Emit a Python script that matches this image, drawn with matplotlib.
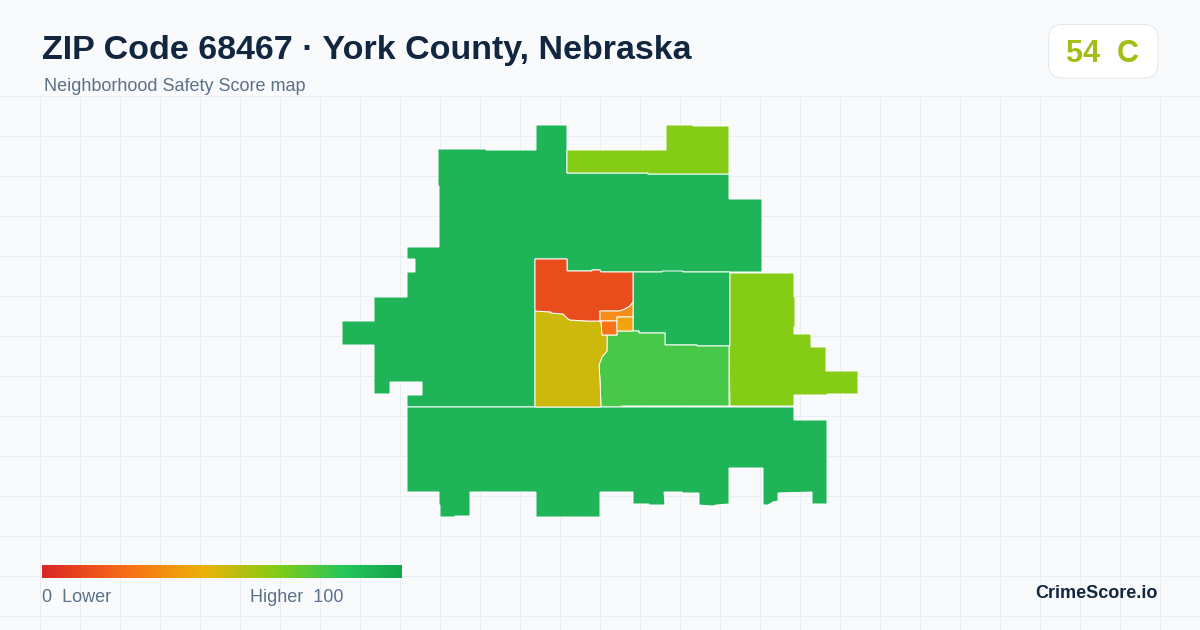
import numpy as np
import matplotlib.pyplot as plt
from matplotlib.colors import LinearSegmentedColormap
from matplotlib.patches import FancyBboxPatch, Polygon

plt.rcParams['font.family'] = ['Liberation Sans', 'DejaVu Sans']

TITLE = 'ZIP Code 68467 · York County, Nebraska'
SUBTITLE = 'Neighborhood Safety Score map'
SCORE_TEXT = '54  C'
BRAND = 'CrimeScore.io'

# tract outlines in image pixels
west_big = [(438, 149), (486, 149), (486, 150), (536, 150), (536, 125), (567, 125), (567, 173), (648, 173),
            (648, 174), (729, 174), (729, 199), (762, 199), (762, 272), (633, 272), (601, 272), (600, 270),
            (592, 270), (592, 271), (567, 271), (567, 259), (535, 259), (535, 407), (407, 407), (407, 395),
            (422, 395), (422, 382), (390, 382), (390, 394), (374, 394), (374, 345), (342, 345), (342, 321),
            (374, 321), (374, 297), (407, 297), (407, 272), (415, 272), (415, 259), (407, 259), (407, 247),
            (439, 247), (439, 186), (438, 186)]
north_lime = [(567, 150), (666, 150), (666, 125), (693, 125), (693, 126), (729, 126), (729, 174), (648, 174),
              (648, 173), (567, 173)]
east_green = [(633, 272), (662, 272), (662, 271), (683, 271), (683, 272), (730, 272), (730, 346), (697, 346),
              (697, 345), (665, 345), (665, 333), (639, 333), (639, 331), (633, 331)]
east_lime = [(730, 273), (794, 273), (794, 297), (795, 297), (795, 327), (794, 327), (794, 334), (811, 334),
             (811, 347), (826, 347), (826, 371), (858, 371), (858, 394), (827, 394), (827, 395), (794, 395),
             (794, 406), (730, 406), (729, 346), (730, 346)]
center_green = [(601, 407), (600, 380), (599, 365), (602, 357), (607, 351), (607, 335), (617, 335), (617, 331),
                (633, 331), (639, 331), (639, 333), (665, 333), (665, 345), (697, 345), (697, 346), (729, 346),
                (729, 406), (621, 406), (621, 407)]
yellow_tract = [(535, 311), (551, 312), (551, 313), (563, 314), (568, 319), (570, 320), (587, 321), (601, 321),
                (602, 335), (607, 335), (607, 351), (602, 357), (599, 365), (600, 380), (601, 407), (535, 407)]
red_tract = [(535, 259), (567, 259), (567, 271), (592, 271), (592, 270), (600, 270), (601, 272), (633, 272),
             (633, 302), (630, 306), (625, 309), (619, 311), (600, 311), (600, 321), (587, 321), (570, 320),
             (568, 319), (563, 314), (551, 313), (551, 312), (535, 311)]
orange_top = [(600, 311), (619, 311), (625, 309), (630, 306), (633, 302), (633, 317), (617, 317), (617, 321),
              (600, 321)]
orange_square = [(601, 321), (617, 321), (617, 335), (602, 335)]
amber_square = [(617, 317), (633, 317), (633, 331), (617, 331)]
south_green = [(407, 407), (794, 407), (794, 420), (827, 420), (827, 504), (812, 504), (812, 492), (778, 493),
               (778, 501), (773, 502), (768, 505), (763, 505), (763, 468), (729, 468), (729, 504), (716, 505),
               (713, 506), (699, 505), (699, 493), (682, 493), (682, 492), (664, 492), (665, 505), (649, 505),
               (649, 504), (633, 504), (633, 492), (600, 492), (600, 517), (536, 517), (536, 492), (470, 492),
               (470, 516), (455, 516), (455, 517), (440, 517), (440, 505), (439, 505), (439, 492), (407, 492)]

tracts = [west_big, north_lime, east_green, east_lime, center_green, south_green,
          yellow_tract, red_tract, orange_top, orange_square, amber_square]
tract_colors = ['#1FB457', '#84CC16', '#1FB457', '#84CC16', '#47C848', '#1FB457',
                '#CDB90C', '#EA4D1C', '#F98D1A', '#F97316', '#F0A30F']

gradient_stops = ['#DC2626', '#F97316', '#EAB308', '#84CC16', '#22C55E', '#16A34A']
gradient_pos = [0, 0.25, 0.45, 0.65, 0.85, 1]

fig = plt.figure(figsize=(12, 6.3), dpi=100, facecolor='#F8FAFC')
ax = fig.add_axes([0, 0, 1, 1])
ax.set_xlim(0, 1200)
ax.set_ylim(630, 0)
ax.axis('off')

# background grid only starts below the header
for gx in np.arange(40.2, 1200, 40):
    ax.plot([gx, gx], [96.2, 630], color='#E9EEF3', lw=0.72, zorder=1)
for gy in np.arange(96.2, 630, 40):
    ax.plot([0, 1200], [gy, gy], color='#E9EEF3', lw=0.72, zorder=1)

for pts, col in zip(tracts, tract_colors):
    ax.add_patch(Polygon(pts, closed=True, facecolor=col, edgecolor='white', lw=0.7, joinstyle='miter',
                         snap=False, zorder=3))

ax.text(42, 59, TITLE, fontsize=24.48, fontweight='bold', color='#12263F', va='baseline', zorder=5)
ax.text(44, 91, SUBTITLE, fontsize=12.96, color='#5B7089', va='baseline', zorder=5)

badge = FancyBboxPatch((1062.5, 38.5), 81.5, 25.5, boxstyle='round,pad=14,rounding_size=14',
                       facecolor='white', edgecolor='#E2E8F0', lw=0.72, zorder=4)
ax.add_patch(badge)
ax.text(1103, 61.5, SCORE_TEXT, fontsize=22, fontweight='bold', color='#A3BE14', ha='center', va='baseline', zorder=5)

cmap = LinearSegmentedColormap.from_list('score', list(zip(gradient_pos, gradient_stops)))
ax.imshow(np.linspace(0, 1, 360).reshape(1, -1), cmap=cmap, extent=(42, 402, 578, 565), aspect='auto', zorder=4)
ax.set_xlim(0, 1200)
ax.set_ylim(630, 0)

ax.text(42, 602, '0  Lower', fontsize=12.96, color='#5B7089', va='baseline', zorder=5)
ax.text(249.5, 602, 'Higher  100', fontsize=12.96, color='#5B7089', va='baseline', zorder=5)
ax.text(1158, 598.5, BRAND, fontsize=12.96, fontweight='bold', color='#12263F', ha='right', va='baseline', zorder=5)

fig.savefig('out.png', dpi=100, facecolor=fig.get_facecolor())
